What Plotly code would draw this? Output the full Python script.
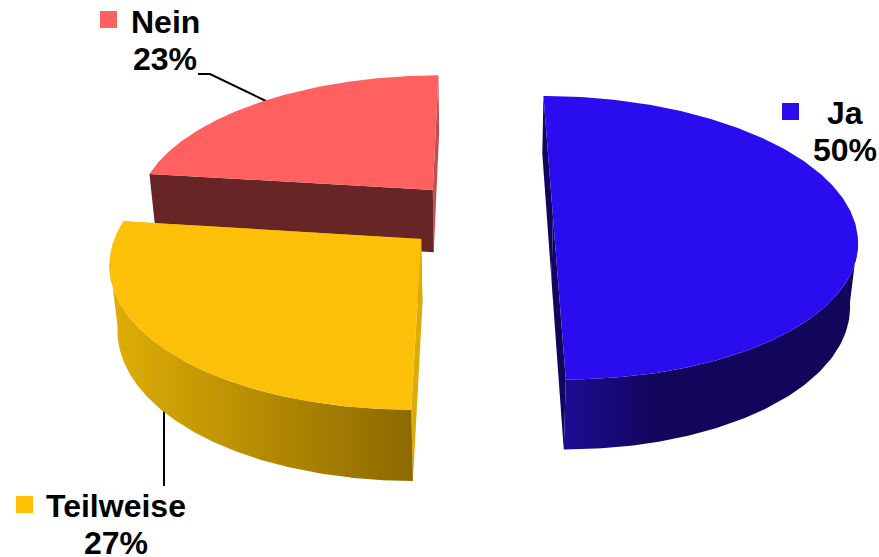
import numpy as np
import plotly.graph_objects as go

# --- chart data ---
categories = ["Ja", "Teilweise", "Nein"]
shares = [50, 27, 23]
colors_top = ["#2A0DEF", "#FCC008", "#FF6161"]
wall_scales = [
    [[0, "#1E0B96"], [0.3, "#12065C"], [1, "#12065C"]],
    [[0, "#DFAE05"], [1, "#8C6900"]],
    [[0, "#682525"], [1, "#682525"]],
]
colors_face_start = ["#12065C", "#DDAB05", "#682525"]
colors_face_end = ["#12065C", "#DDAB05", "#C25050"]

# --- projection settings (pixels of the picture) ---
W, H = 879, 557
VX, HORIZON, C0 = 478.0, -733.0, 950.0
K, A = 0.146, 300.0
NX, NY, C_EXT = 480.0, 3300.0, 0.021
OFFSET_U = [0.25, -0.185, -0.155]
OFFSET_V = [0.0, 0.155, -0.20]


def project(u, v, bottom=False):
    w = 1 - K * np.asarray(v, float)
    sx = VX + A * np.asarray(u, float) / w
    sy = HORIZON + C0 / w
    if bottom:
        t = (C_EXT / w) / (1 + C_EXT / w)
        sx = sx + t * (NX - sx)
        sy = sy + t * (NY - sy)
    return sx, sy


def poly(fig, x, y, color=None, scale=None):
    kw = dict(x=list(x), y=list(y), mode="lines", line=dict(width=0), fill="toself",
              hoverinfo="skip", showlegend=False)
    if scale is not None:
        kw["fillgradient"] = dict(type="horizontal", colorscale=scale)
        kw["fillcolor"] = scale[0][1]
    else:
        kw["fillcolor"] = color
    fig.add_trace(go.Scatter(**kw))


fig = go.Figure()

# leader lines lie under the slices
for xs, ys in [([198, 210, 268], [74, 74, 102]), ([164, 164], [405, 486])]:
    fig.add_trace(go.Scatter(x=xs, y=ys, mode="lines", line=dict(color="black", width=2),
                             hoverinfo="skip", showlegend=False))

# slice angles from the shares, clockwise from the back of the pie
ends = np.cumsum(shares) / sum(shares) * 2 * np.pi
starts = np.concatenate([[0], ends[:-1]])
tangent = np.arccos(-K)  # where the rim turns from back-facing to front-facing

# paint back to front: Nein, Teilweise, Ja
for i in [2, 1, 0]:
    a0, a1 = starts[i], ends[i]
    ou, ov = OFFSET_U[i], OFFSET_V[i]
    th = np.linspace(a0, a1, 200)
    u, v = ou + np.sin(th), ov - np.cos(th)
    tx, ty = project(u, v)
    bx, by = project(u, v, bottom=True)
    ax, ay = project(ou, ov)
    cx, cy = project(ou, ov, bottom=True)

    # radial faces
    poly(fig, [ax, tx[-1], bx[-1], cx], [ay, ty[-1], by[-1], cy], colors_face_end[i])
    poly(fig, [ax, tx[0], bx[0], cx], [ay, ty[0], by[0], cy], colors_face_start[i])

    # curved wall: only the part that faces the viewer
    front = (th >= tangent) & (th <= 2 * np.pi - tangent)
    if front.sum() > 1:
        poly(fig, np.r_[tx[front], bx[front][::-1]], np.r_[ty[front], by[front][::-1]],
             scale=wall_scales[i])

    # top face
    poly(fig, np.r_[ax, tx], np.r_[ay, ty], colors_top[i])

font = dict(family="Liberation Sans, Arial, sans-serif", size=32, color="black")
labels = [
    (845, 113, 782, 103, 0),
    (116, 506, 16, 496, 1),
    (165, 22, 100, 11, 2),
]
annotations, shapes = [], []
for lx, ly, kx, ky, i in labels:
    for dy, s in [(0, categories[i]), (36.5, f"{shares[i]}%")]:
        annotations.append(dict(x=lx, y=ly + dy, xref="x", yref="y", text=f"<b>{s}</b>",
                                showarrow=False, font=font, xanchor="center", yanchor="middle"))
    shapes.append(dict(type="rect", xref="x", yref="y", x0=kx, x1=kx + 17, y0=ky, y1=ky + 17,
                       fillcolor=colors_top[i], line=dict(width=0)))

fig.update_layout(
    width=W, height=H, margin=dict(l=0, r=0, t=0, b=0), autosize=False,
    paper_bgcolor="white", plot_bgcolor="white",
    xaxis=dict(range=[0, W], visible=False, fixedrange=True),
    yaxis=dict(range=[H, 0], visible=False, fixedrange=True),
    annotations=annotations, shapes=shapes,
)
fig.write_html("out.html", config=dict(displayModeBar=False),
               post_script="document.body.style.margin='0';document.documentElement.style.overflow='hidden';")
